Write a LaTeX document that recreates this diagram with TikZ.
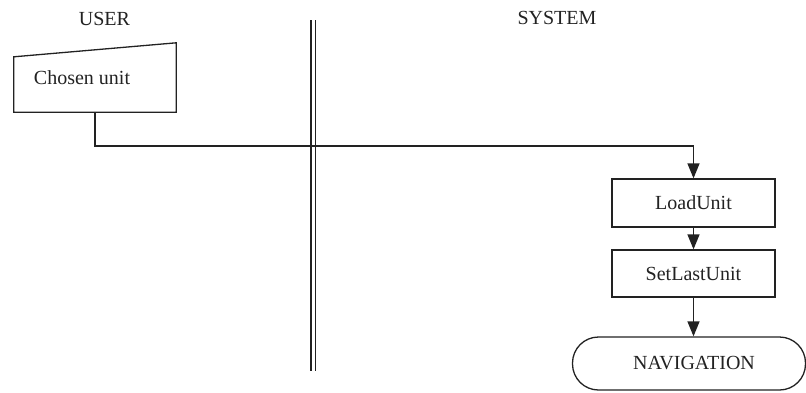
\documentclass[tikz,border=0pt]{standalone}
\usepackage{fontspec}
\setmainfont{Liberation Serif}
\usetikzlibrary{arrows.meta}
\definecolor{ink}{HTML}{222222}
\tikzset{
  box/.style={draw=ink, line width=1.3pt, rectangle, inner sep=0pt, minimum width=163pt, text=ink},
  arr/.style={draw=ink, line width=1.3pt, -{Triangle[length=15pt,width=12pt]}},
  lane/.style={draw=ink, line width=1.3pt},
  lbl/.style={text=ink, inner sep=0pt}
}
\begin{document}
\begin{tikzpicture}[x=1pt,y=-1pt,font=\fontsize{20}{22}\selectfont]
\useasboundingbox (0,0) rectangle (806,392);
% lane labels
\node[lbl] (user) at (104.5,19) {USER};
\node[lbl] (system) at (557,18) {SYSTEM};
% lane separator (double line)
\coordinate (s1t) at (311,20); \coordinate (s1b) at (311,371);
\coordinate (s2t) at (315.5,20); \coordinate (s2b) at (315.5,371);
\draw[lane] (s1t) -- (s1b);
\draw[lane] (s2t) -- (s2b);
% manual input shape
\node[lbl, minimum width=162pt, minimum height=69pt] (chosen) at (95,77.5) {Chosen unit\hspace*{26pt}};
\draw[lane, line join=miter] (chosen.south west) -- ([yshift=-14pt]chosen.north west) -- (chosen.north east) -- (chosen.south east) -- cycle;
% process boxes
\node[box, minimum height=48pt] (load) at (693.5,203) {LoadUnit};
\node[box, minimum height=47pt] (set) at (693.5,273.5) {SetLastUnit};
\node[draw=ink, line width=1.3pt, rectangle, rounded corners=26pt, inner sep=0pt, minimum width=233pt, minimum height=53pt, text=ink] (nav) at (689,363.5) {\hspace*{10pt}NAVIGATION};
% connectors
\coordinate (turn) at (693.5,146);
\draw[arr] (chosen.south) |- (turn) -- (load.north);
\draw[arr] (load.south) -- (set.north);
\draw[arr] (set.south) -- (set.south |- nav.north);
\end{tikzpicture}
\end{document}
